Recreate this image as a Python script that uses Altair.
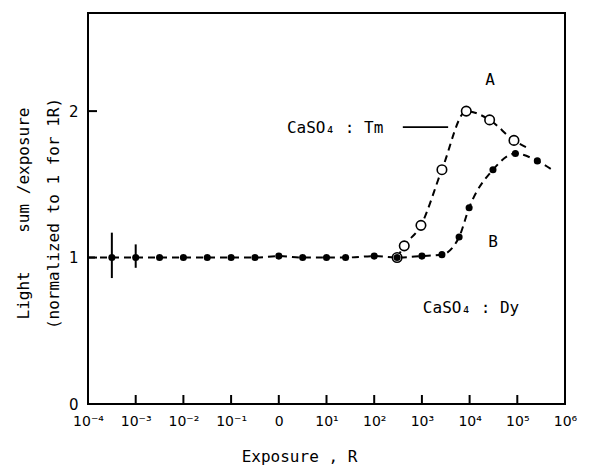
import altair as alt
import pandas as pd

# axis ticks (log10 of exposure) and their labels
tick_vals = [-4, -3, -2, -1, 0, 1, 2, 3, 4, 5, 6]
tick_labels = ["10⁻⁴", "10⁻³", "10⁻²", "10⁻¹", "0", "10¹", "10²", "10³", "10⁴", "10⁵", "10⁶"]
inner_x_ticks = [-3, -2, -1, 0, 1, 2, 3, 4, 5]
inner_y_ticks = [1, 2]

# curve B : CaSO4:Dy (filled dots)
b_x = [-3.5, -3.0, -2.5, -2.0, -1.5, -1.0, -0.5, 0.0, 0.5, 1.0, 1.4, 2.0, 2.48,
       3.0, 3.42, 3.78, 3.99, 4.49, 4.96, 5.42]
b_y = [1.0, 1.0, 1.0, 1.0, 1.0, 1.0, 1.0, 1.01, 1.0, 1.0, 1.0, 1.01, 1.0,
       1.01, 1.02, 1.14, 1.34, 1.60, 1.71, 1.66]
b_line_x = [-4.0] + b_x + [5.73]
b_line_y = [1.0] + b_y + [1.60]

# curve A : CaSO4:Tm (open circles)
a_x = [2.48, 2.63, 2.98, 3.42, 3.93, 4.42, 4.93]
a_y = [1.0, 1.08, 1.22, 1.60, 2.0, 1.94, 1.80]
a_line_x = a_x + [5.21]
a_line_y = a_y + [1.75]

# error bars
err_x = [-3.5, -3.0]
err_lo = [0.86, 0.93]
err_hi = [1.17, 1.09]

# annotations
ann_text = ["CaSO₄ : Tm", "A", "B", "CaSO₄ : Dy"]
ann_x = [1.18, 4.43, 4.49, 4.03]
ann_y = [1.885, 2.21, 1.107, 0.656]
seg_x1 = [2.60]
seg_x2 = [3.55]
seg_y = [1.89]

NB = "\u00a0"
y_title = ["Light" + NB * 4 + "sum /exposure", "(normalized to 1 for 1R)"]

FONT = "DejaVu Sans"
MONO = "DejaVu Sans Mono"

label_expr = ""
for v, l in zip(tick_vals, tick_labels):
    label_expr += f"datum.value == {v} ? '{l}' : "
label_expr += "''"

xs = alt.Scale(domain=[-4, 6], nice=False, zero=False)
ys = alt.Scale(domain=[0, 2.67], nice=False, zero=False)

x_axis = alt.Axis(values=tick_vals, labelExpr=label_expr, title="Exposure , R",
                  ticks=False, domain=False, grid=False, labelPadding=10,
                  labelFontSize=14, labelFont=FONT, labelColor="black",
                  titleFont=MONO, titleFontSize=16, titleFontWeight="normal",
                  titleColor="black", titleX=211, titleY=52, titleBaseline="middle",
                  labelFlush=False)
y_axis = alt.Axis(values=[0, 1, 2], title=y_title,
                  ticks=False, domain=False, grid=False, labelPadding=10,
                  labelFontSize=15, labelFont=FONT, labelColor="black",
                  titleFont=MONO, titleFontSize=16, titleFontWeight="normal",
                  titleColor="black", titleLineHeight=30, titleX=-57, titleY=200,
                  titleAlign="center", titleBaseline="bottom", titleAngle=270)

def X(f):
    return alt.X(f, type="quantitative", scale=xs, axis=x_axis)

def Y(f):
    return alt.Y(f, type="quantitative", scale=ys, axis=y_axis)

b_line = alt.Chart(pd.DataFrame({"x": b_line_x, "y": b_line_y})).mark_line(
    interpolate="monotone", strokeDash=[7, 5], strokeWidth=2, color="black"
).encode(x=X("x"), y=Y("y"))

a_line = alt.Chart(pd.DataFrame({"x": a_line_x, "y": a_line_y})).mark_line(
    interpolate="monotone", strokeDash=[7, 5], strokeWidth=2, color="black"
).encode(x=X("x"), y=Y("y"))

err = alt.Chart(pd.DataFrame({"x": err_x, "lo": err_lo, "hi": err_hi})).mark_rule(
    color="black", strokeWidth=2
).encode(x=X("x"), y=Y("lo"), y2="hi")

b_pts = alt.Chart(pd.DataFrame({"x": b_x, "y": b_y})).mark_circle(
    size=50, color="black", opacity=1
).encode(x=X("x"), y=Y("y"))

a_pts = alt.Chart(pd.DataFrame({"x": a_x, "y": a_y})).mark_point(
    shape="circle", size=90, filled=True, fill="white", stroke="black",
    strokeWidth=1.6, opacity=1
).encode(x=X("x"), y=Y("y"))

xt = alt.Chart(pd.DataFrame({"x": inner_x_ticks})).mark_rule(
    color="black", strokeWidth=2
).encode(x=X("x"), y=alt.value(391), y2=alt.value(382))

yt = alt.Chart(pd.DataFrame({"y": inner_y_ticks})).mark_rule(
    color="black", strokeWidth=2
).encode(y=Y("y"), x=alt.value(0), x2=alt.value(9))

seg = alt.Chart(pd.DataFrame({"x1": seg_x1, "x2": seg_x2, "y": seg_y})).mark_rule(
    color="black", strokeWidth=1.8
).encode(x=X("x1"), x2="x2", y=Y("y"))

ann = alt.Chart(pd.DataFrame({"t": ann_text, "x": ann_x, "y": ann_y})).mark_text(
    font=MONO, fontSize=16, color="black", align="center", baseline="middle"
).encode(x=X("x"), y=Y("y"), text="t:N")

chart = alt.layer(b_line, a_line, err, xt, yt, seg, a_pts, b_pts, ann).properties(
    width=477, height=391,
    padding={"left": 80, "top": 5, "right": 19, "bottom": 62},
    autosize=alt.AutoSizeParams(type="none"),
    background="white",
).configure_view(stroke="black", strokeWidth=2)

chart.save("out.html", embed_options={"renderer": "svg", "actions": False})
